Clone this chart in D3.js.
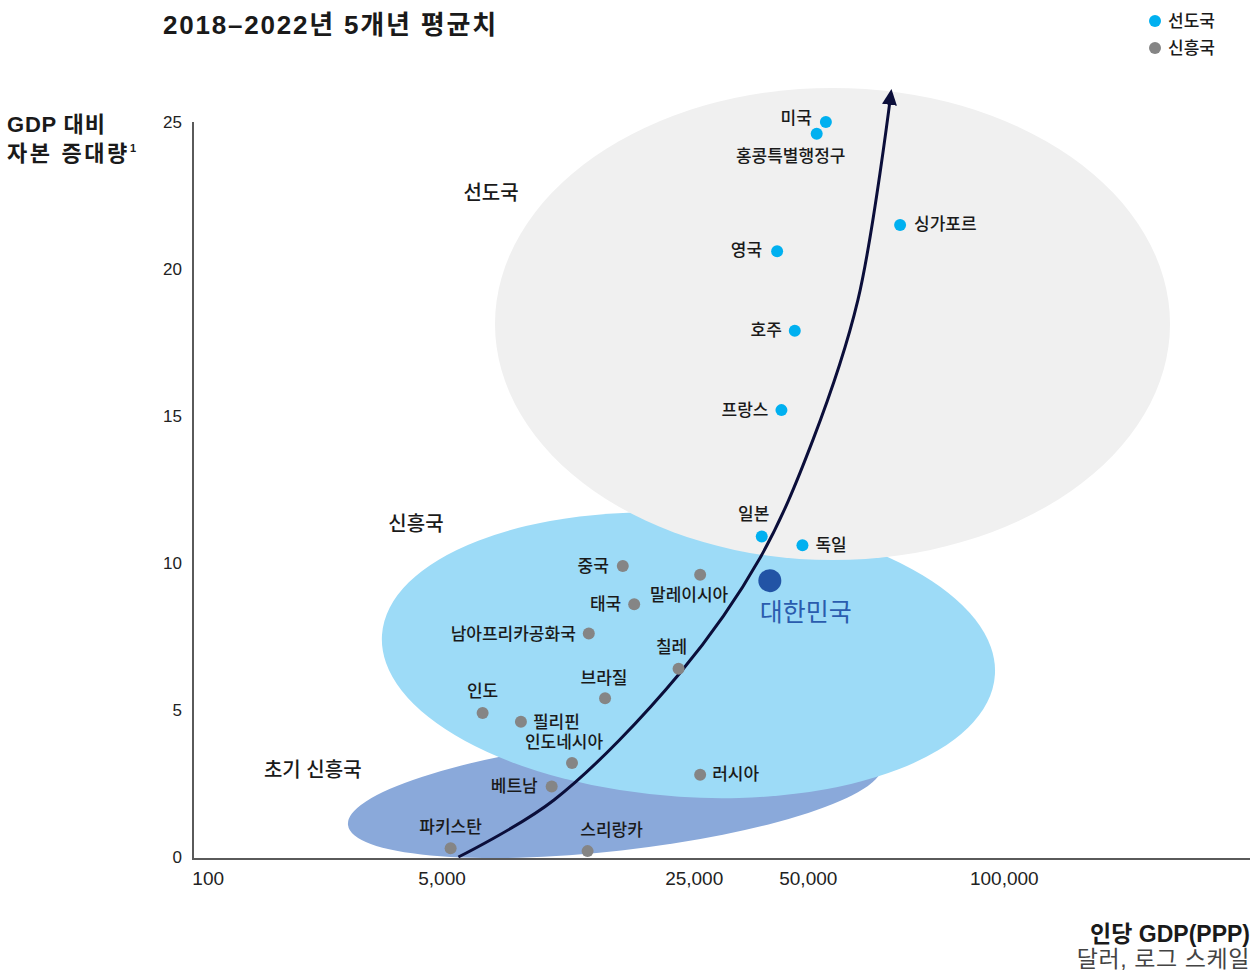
<!DOCTYPE html>
<html lang="ko">
<head>
<meta charset="utf-8">
<script src="https://cdn.jsdelivr.net/npm/d3@7"></script>
<style>
  html, body { margin: 0; padding: 0; background: #ffffff; }
  svg { display: block; }
  text { font-family: 'Liberation Sans', 'Noto Sans CJK KR', sans-serif; fill: #1a1a1a; }
</style>
</head>
<body>
<svg id="chart" width="1258" height="972"></svg>
<script>
// Axis ticks
const xTickValues = [100, 5000, 25000, 50000, 100000];
const xTickLabels = ['100', '5,000', '25,000', '50,000', '100,000'];
const yTickValues = [0, 5, 10, 15, 20, 25];

// Leading economies: per-capita GDP (PPP, USD) and capital accumulation (% of GDP)
const leaderNames = ['미국', '홍콩특별행정구', '싱가포르', '영국', '호주', '프랑스', '일본', '독일'];
const leaderGdp = [53300, 51600, 69300, 41500, 46200, 42600, 37800, 48400];
const leaderCapital = [25.0, 24.6, 21.5, 20.6, 17.9, 15.2, 10.9, 10.6];

// Emerging economies
const emergingNames = ['중국', '말레이시아', '태국', '남아프리카공화국', '칠레', '브라질', '인도', '필리핀',
  '인도네시아', '러시아', '베트남', '파키스탄', '스리랑카'];
const emergingGdp = [15900, 26000, 17100, 12800, 22700, 14200, 6500, 8300, 11500, 26000, 10100, 5300, 12700];
const emergingCapital = [9.9, 9.6, 8.6, 7.6, 6.4, 5.4, 4.9, 4.6, 3.2, 2.8, 2.4, 0.3, 0.2];

// Korea, highlighted
const koreaName = '대한민국';
const koreaGdp = 39700;
const koreaCapital = 9.4;

// Development path (trend arrow)
const trendGdp = [5570, 10250, 22900, 37400, 50900, 59700, 67100];
const trendCapital = [0, 1.94, 6.26, 10.17, 14.18, 18.95, 25.99];

// Country-group regions: major-axis end points and half thickness, in data units
const regionNames = ['초기 신흥국', '신흥국', '선도국'];
const regionStartGdp = [1046, 1847, 7035];
const regionStartCapital = [1.09, 7.55, 18.13];
const regionEndGdp = [65000, 96900, 180000];
const regionEndCapital = [3.13, 6.19, 18.13];
const regionHalfWidth = [1.9, 4.83, 8.03];
const regionLabelGdp = [580, 3260, 6860];
const regionLabelCapital = [2.96, 11.33, 22.6];

// Legend
const legendNames = ['선도국', '신흥국'];

// ---- styling / layout ----
const COLORS = {
  leader: '#00b0f0',
  emerging: '#858585',
  korea: '#2254a5',
  koreaText: '#2a5cae',
  arrow: '#0b0e3a',
  regions: ['#8aa9da', '#9ddbf7', '#f0f0f0'],
  axis: '#5a5a5a'
};
const plotLeft = 193, plotRight = 1250, plotTop = 122, plotBottom = 859;
const LABEL_SIZE = '17px';

const svg = d3.select('#chart');

// Stylised log axis, anchored at each labelled value
const x = d3.scaleLog()
  .domain(xTickValues)
  .range([207.7, 441.5, 693.7, 807.8, 1003.8]);
const y = d3.scaleLinear().domain([0, 25]).range([857, 122]);

// Regions (drawn first, back to front)
const regionG = svg.append('g');
regionNames.forEach((name, i) => {
  const x1 = x(regionStartGdp[i]), y1 = y(regionStartCapital[i]);
  const x2 = x(regionEndGdp[i]), y2 = y(regionEndCapital[i]);
  const cx = (x1 + x2) / 2, cy = (y1 + y2) / 2;
  const rx = Math.hypot(x2 - x1, y2 - y1) / 2;
  const ry = y(0) - y(regionHalfWidth[i]);
  const angle = Math.atan2(y2 - y1, x2 - x1) * 180 / Math.PI;
  regionG.append('ellipse')
    .attr('cx', 0).attr('cy', 0).attr('rx', rx).attr('ry', ry)
    .attr('transform', `translate(${cx},${cy}) rotate(${angle})`)
    .attr('fill', COLORS.regions[i]);
});

// Region labels
regionNames.forEach((name, i) => {
  svg.append('text')
    .attr('x', x(regionLabelGdp[i]))
    .attr('y', y(regionLabelCapital[i]))
    .attr('text-anchor', 'middle')
    .attr('dominant-baseline', 'central')
    .style('font-size', '20px')
    .style('font-weight', 500)
    .text(name);
});

// Axes
const yAxis = d3.axisLeft(y).tickValues(yTickValues).tickSize(0).tickPadding(11);
const yAxisG = svg.append('g').attr('transform', `translate(${plotLeft},0)`).call(yAxis);
yAxisG.select('.domain').remove();
yAxisG.selectAll('text').style('font-size', '17px').style('fill', '#222')
  .style('font-family', "'Liberation Sans', sans-serif");

const xAxis = d3.axisBottom(x).tickValues(xTickValues)
  .tickFormat((d, i) => xTickLabels[i]).tickSize(0).tickPadding(13);
const xAxisG = svg.append('g').attr('transform', `translate(0,${plotBottom})`).call(xAxis);
xAxisG.select('.domain').remove();
xAxisG.selectAll('text').style('font-size', '19px').style('fill', '#222')
  .style('font-family', "'Liberation Sans', sans-serif");

svg.append('line')
  .attr('x1', plotLeft).attr('x2', plotLeft)
  .attr('y1', plotTop).attr('y2', plotBottom)
  .attr('stroke', COLORS.axis).attr('stroke-width', 2);
svg.append('line')
  .attr('x1', plotLeft - 1).attr('x2', plotRight)
  .attr('y1', plotBottom).attr('y2', plotBottom)
  .attr('stroke', COLORS.axis).attr('stroke-width', 2);

// Trend arrow
const defs = svg.append('defs');
defs.append('marker')
  .attr('id', 'arrowHead')
  .attr('markerUnits', 'userSpaceOnUse')
  .attr('viewBox', '0 -8 16 16')
  .attr('refX', 12).attr('refY', 0)
  .attr('markerWidth', 16).attr('markerHeight', 16)
  .attr('orient', 'auto')
  .append('path').attr('d', 'M0,-7.5L16,0L0,7.5Z').attr('fill', COLORS.arrow);

const trendLine = d3.line()
  .x((d, i) => x(trendGdp[i]))
  .y((d, i) => y(trendCapital[i]))
  .curve(d3.curveCatmullRom.alpha(0.5));
svg.append('path')
  .attr('d', trendLine(trendGdp))
  .attr('fill', 'none')
  .attr('stroke', COLORS.arrow)
  .attr('stroke-width', 3)
  .attr('marker-end', 'url(#arrowHead)');

// Country label placement: [anchor, dx, dy]
const labelPlacement = {
  '미국': ['end', -14, -4],
  '홍콩특별행정구': ['middle', -26, 23],
  '싱가포르': ['start', 14, 0],
  '영국': ['end', -15, -1],
  '호주': ['end', -13, 0],
  '프랑스': ['end', -13, 0],
  '일본': ['middle', -8, -22],
  '독일': ['start', 13, 0],
  '중국': ['end', -14, 1],
  '말레이시아': ['middle', -11, 21],
  '태국': ['end', -13, 0],
  '남아프리카공화국': ['end', -13, 1],
  '칠레': ['middle', -7, -21],
  '브라질': ['middle', -1, -20],
  '인도': ['middle', 0, -21],
  '필리핀': ['start', 12, 1],
  '인도네시아': ['middle', -8, -20],
  '러시아': ['start', 12, 0],
  '베트남': ['end', -14, 0],
  '파키스탄': ['middle', 0, -21],
  '스리랑카': ['middle', 24, -21]
};

function drawGroup(names, gdp, capital, color) {
  const g = svg.append('g');
  names.forEach((name, i) => {
    const px = x(gdp[i]), py = y(capital[i]);
    g.append('circle').attr('cx', px).attr('cy', py).attr('r', 6).attr('fill', color);
    const p = labelPlacement[name];
    g.append('text')
      .attr('x', px + p[1]).attr('y', py + p[2])
      .attr('text-anchor', p[0])
      .attr('dominant-baseline', 'central')
      .style('font-size', LABEL_SIZE)
      .style('font-weight', 500)
      .text(name);
  });
}
drawGroup(emergingNames, emergingGdp, emergingCapital, COLORS.emerging);
drawGroup(leaderNames, leaderGdp, leaderCapital, COLORS.leader);

// Korea
svg.append('circle')
  .attr('cx', x(koreaGdp)).attr('cy', y(koreaCapital))
  .attr('r', 11.5).attr('fill', COLORS.korea);
svg.append('text')
  .attr('x', x(koreaGdp) - 10).attr('y', y(koreaCapital) + 31)
  .attr('dominant-baseline', 'central')
  .style('font-size', '25px').style('fill', COLORS.koreaText)
  .text(koreaName);

// Title
svg.append('text')
  .attr('x', 163).attr('y', 34)
  .style('font-size', '26px').style('font-weight', 'bold')
  .style('letter-spacing', '1.8px')
  .text('2018–2022년 5개년 평균치');

// Y-axis title
const yTitle = svg.append('text').attr('x', 7).attr('y', 132)
  .style('font-size', '22px').style('font-weight', 'bold');
yTitle.append('tspan').attr('x', 7).style('letter-spacing', '0.8px').text('GDP 대비');
yTitle.append('tspan').attr('x', 7).attr('dy', 29).style('letter-spacing', '2.6px').text('자본 증대량');
yTitle.append('tspan').attr('dy', -9).style('font-size', '11px').text('1');

// X-axis title
svg.append('text')
  .attr('x', plotRight).attr('y', 942)
  .attr('text-anchor', 'end')
  .style('font-size', '23px').style('font-weight', 'bold')
  .text('인당 GDP(PPP)');
svg.append('text')
  .attr('x', plotRight).attr('y', 967)
  .attr('text-anchor', 'end')
  .style('font-size', '23px').style('fill', '#444')
  .style('letter-spacing', '0.6px')
  .text('달러, 로그 스케일');

// Legend
const legendColors = [COLORS.leader, COLORS.emerging];
legendNames.forEach((name, i) => {
  const ly = 21 + i * 27;
  svg.append('circle').attr('cx', 1155).attr('cy', ly).attr('r', 6).attr('fill', legendColors[i]);
  svg.append('text').attr('x', 1168).attr('y', ly)
    .attr('dominant-baseline', 'central')
    .style('font-size', '17px')
    .style('font-weight', 500)
    .text(name);
});
</script>
</body>
</html>
